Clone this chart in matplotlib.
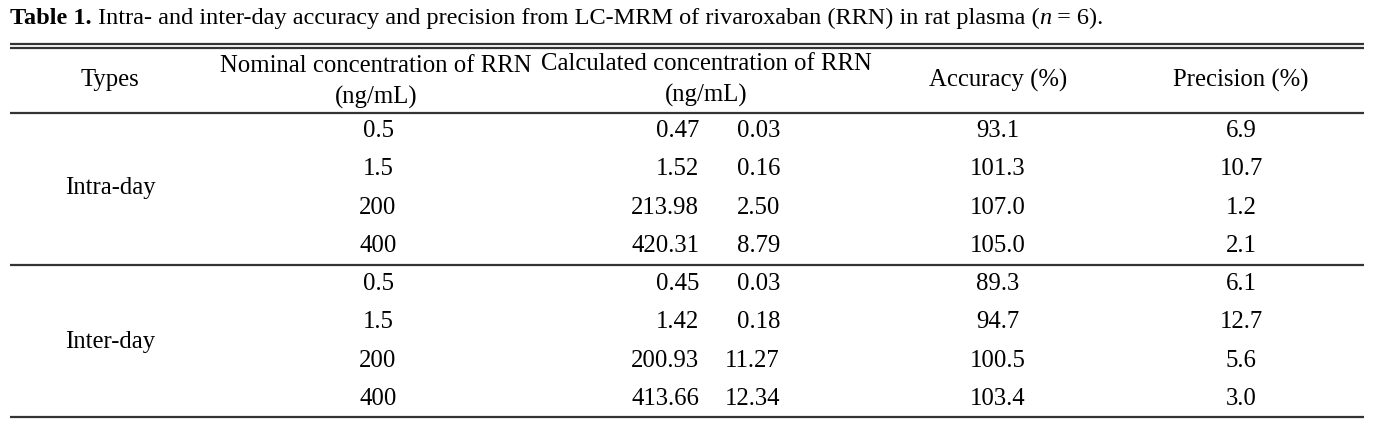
import matplotlib
matplotlib.use('Agg')
import matplotlib.pyplot as plt

# valeurs du tableau
types = ['Intra-day', 'Inter-day']
nominal = [0.5, 1.5, 200, 400, 0.5, 1.5, 200, 400]
calc_mean = [0.47, 1.52, 213.98, 420.31, 0.45, 1.42, 200.93, 413.66]
calc_sd = [0.03, 0.16, 2.50, 8.79, 0.03, 0.18, 11.27, 12.34]
accuracy = [93.1, 101.3, 107.0, 105.0, 89.3, 94.7, 100.5, 103.4]
precision = [6.9, 10.7, 1.2, 2.1, 6.1, 12.7, 5.6, 3.0]

plt.rcParams['font.family'] = ['Liberation Serif', 'DejaVu Serif']
fs = 17.8
fs_title = 17.5
line_col = '#333333'

fig = plt.figure(figsize=(13.84, 4.23), dpi=100)
ax = fig.add_axes([0, 0, 1, 1])
ax.set_xlim(0, 1384)
ax.set_ylim(423, 0)
ax.axis('off')

# titre en plusieurs morceaux (gras / normal / italique)
renderer = fig.canvas.get_renderer()
pieces = [('Table 1.', 'bold', 'normal'),
          (' Intra- and inter-day accuracy and precision from LC-MRM of rivaroxaban (RRN) in rat plasma (', 'normal', 'normal'),
          ('n', 'normal', 'italic'),
          (' = 6).', 'normal', 'normal')]
x = 10
for txt, w, st in pieces:
    t = ax.text(x, 18, txt, fontsize=fs_title, fontweight=w, fontstyle=st,
                va='center', ha='left')
    bb = t.get_window_extent(renderer=renderer)
    x = x + bb.width

# traits horizontaux
x0, x1 = 10, 1364
for y in [44, 48, 113, 265, 417]:
    ax.plot([x0, x1], [y, y], color=line_col, lw=1.6, solid_capstyle='butt')

# en-tête
ax.text(110, 80, 'Types', fontsize=fs, ha='center', va='center')
ax.text(376, 66, 'Nominal concentration of RRN', fontsize=fs, ha='center', va='center')
ax.text(376, 97, '(ng/mL)', fontsize=fs, ha='center', va='center')
ax.text(706, 64, 'Calculated concentration of RRN', fontsize=fs, ha='center', va='center')
ax.text(706, 95, '(ng/mL)', fontsize=fs, ha='center', va='center')
ax.text(998, 80, 'Accuracy (%)', fontsize=fs, ha='center', va='center')
ax.text(1241, 80, 'Precision (%)', fontsize=fs, ha='center', va='center')

# lignes de données
row_y = [131 + i * 38.3 for i in range(len(nominal))]
for i, y in enumerate(row_y):
    ax.text(378, y, f'{nominal[i]:g}', fontsize=fs, ha='center', va='center')
    ax.text(699, y, f'{calc_mean[i]:.2f}', fontsize=fs, ha='right', va='center')
    ax.text(780, y, f'{calc_sd[i]:.2f}', fontsize=fs, ha='right', va='center')
    ax.text(998, y, f'{accuracy[i]:.1f}', fontsize=fs, ha='center', va='center')
    ax.text(1241, y, f'{precision[i]:.1f}', fontsize=fs, ha='center', va='center')

for g, name in enumerate(types):
    ys = row_y[g * 4:(g + 1) * 4]
    ax.text(110, (ys[0] + ys[-1]) / 2, name, fontsize=fs, ha='center', va='center')

fig.savefig('out.png', dpi=100)
